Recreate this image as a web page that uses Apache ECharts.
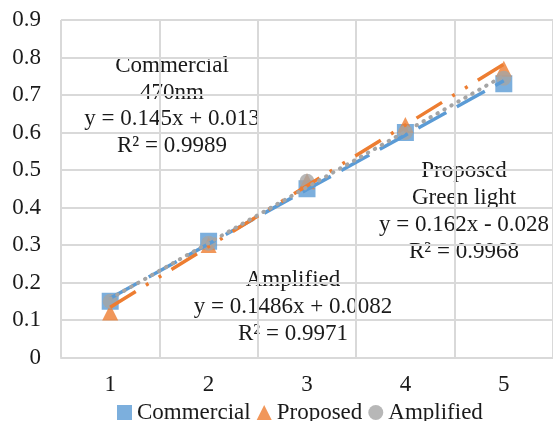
<!DOCTYPE html>
<html>
<head>
<meta charset="utf-8">
<script src="https://cdn.jsdelivr.net/npm/echarts@6/dist/echarts.min.js"></script>
<style>
html,body{margin:0;padding:0;background:#fff;}
#chart{width:553px;height:421px;}
</style>
</head>
<body>
<div id="chart"></div>
<script>
const categories = ['1', '2', '3', '4', '5'];
const commercial = [0.15, 0.31, 0.45, 0.60, 0.73];
const proposed = [0.12, 0.30, 0.47, 0.62, 0.77];
const amplified = [0.15, 0.305, 0.47, 0.60, 0.745];
// Trendline coefficients as printed on the chart
const commercialFit = [0.145, 0.013];
const proposedFit = [0.162, -0.028];
const amplifiedFit = [0.1486, 0.0082];
const commercialLabel = ['Commercial', '470nm', 'y = 0.145x + 0.013', 'R² = 0.9989'];
const proposedLabel = ['Proposed', 'Green light', 'y = 0.162x - 0.028', 'R² = 0.9968'];
const amplifiedLabel = ['Amplified', 'y = 0.1486x + 0.0082', 'R² = 0.9971'];

const BLUE = '#5B9BD5', ORANGE = '#ED7D31', GRAY = '#A5A5A5';
const FONT = 'Liberation Serif';
const TXT = '#1a1a1a';
const FS = 23;

function trend(fit) {
  return categories.map(c => +(fit[0] * Number(c) + fit[1]).toFixed(4));
}

const chart = echarts.init(document.getElementById('chart'));
chart.setOption({
  animation: false,
  grid: { left: 61, top: 20, width: 499, height: 337.5 },
  xAxis: {
    type: 'category',
    data: categories,
    boundaryGap: true,
    axisLine: { lineStyle: { color: '#d9d9d9', width: 2 } },
    axisTick: { show: false },
    axisLabel: { margin: 16, fontFamily: FONT, fontSize: FS, color: TXT },
    splitLine: { show: true, interval: 0, lineStyle: { color: '#d9d9d9', width: 2 } }
  },
  yAxis: {
    type: 'value',
    min: 0, max: 0.9, interval: 0.1,
    axisLine: { show: false },
    axisTick: { show: false },
    axisLabel: {
      margin: 20, fontFamily: FONT, fontSize: FS, color: TXT,
      formatter: v => String(+v.toFixed(1))
    },
    splitLine: { lineStyle: { color: '#d9d9d9', width: 2 } }
  },
  legend: {
    left: 112, top: 396,
    itemWidth: 15, itemHeight: 15, itemGap: 6,
    textStyle: { fontFamily: FONT, fontSize: FS, color: TXT },
    data: [
      { name: 'Commercial', icon: 'rect' },
      { name: 'Proposed', icon: 'triangle' },
      { name: 'Amplified', icon: 'circle' }
    ]
  },
  graphic: [
    { type: 'text', x: 172, y: 53, silent: true, style: { text: commercialLabel.join('\n'), align: 'center', verticalAlign: 'top', fontFamily: FONT, fontSize: FS, lineHeight: 26.5, fill: TXT } },
    { type: 'text', x: 464, y: 157, silent: true, style: { text: proposedLabel.join('\n'), align: 'center', verticalAlign: 'top', fontFamily: FONT, fontSize: FS, lineHeight: 27, fill: TXT } },
    { type: 'text', x: 293, y: 266, silent: true, style: { text: amplifiedLabel.join('\n'), align: 'center', verticalAlign: 'top', fontFamily: FONT, fontSize: FS, lineHeight: 27, fill: TXT } }
  ],
  series: [
    { name: 'Commercial', type: 'scatter', data: commercial, symbol: 'rect', symbolSize: 17, itemStyle: { color: BLUE }, z: 2 },
    { name: 'Proposed', type: 'scatter', data: proposed, symbol: 'triangle', symbolSize: 16, itemStyle: { color: ORANGE }, z: 2 },
    { name: 'Amplified', type: 'scatter', data: amplified, symbol: 'circle', symbolSize: 15, itemStyle: { color: GRAY }, z: 2 },
    { name: 'Commercial trend', type: 'line', data: trend(commercialFit), symbol: 'none', silent: true, z: 3,
      lineStyle: { color: BLUE, width: 3.5, type: [32, 12], cap: 'butt' } },
    { name: 'Proposed trend', type: 'line', data: trend(proposedFit), symbol: 'none', silent: true, z: 3,
      lineStyle: { color: ORANGE, width: 3.5, type: [30, 12, 3, 12, 3, 12], cap: 'butt' } },
    { name: 'Amplified trend', type: 'line', data: trend(amplifiedFit), symbol: 'none', silent: true, z: 3,
      lineStyle: { color: GRAY, width: 4, type: [0.5, 7.5], cap: 'round' } }
  ]
});
</script>
</body>
</html>
